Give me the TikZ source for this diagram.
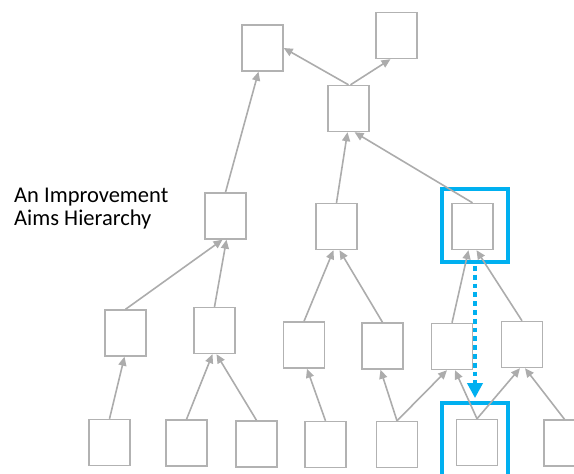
\documentclass[tikz,border=0pt]{standalone}
\usepackage{fontspec}
\setmainfont{Carlito}
\usepackage{tikz}
\usetikzlibrary{arrows.meta}
\definecolor{boxgray}{RGB}{178,178,178}
\definecolor{linegray}{RGB}{172,172,172}
\definecolor{hilite}{RGB}{0,176,240}

\begin{document}
\begin{tikzpicture}[x=1pt, y=-1pt,
 every text node part/.style={align=left},
aim/.style={rectangle, draw=boxgray, line width=1.4pt, inner sep=0pt, minimum width=41pt, minimum height=46pt},
focus/.style={rectangle, draw=hilite, line width=3.8pt, inner sep=0pt, minimum width=66pt, minimum height=73pt},
arrow/.style={-{Triangle[length=9pt, width=8pt]}, draw=linegray, line width=1.6pt},
drill/.style={-{Triangle[length=15pt, width=15pt]}, draw=hilite, line width=4.8pt, dash pattern=on 4.8pt off 4pt}]

    \clip (0,0) rectangle (574,474);
    \useasboundingbox (0,0) rectangle (574,474);

	\node[anchor=base west, inner sep=0pt, font=\fontsize{22.5}{23.5}\selectfont] (title) at (14,225.5) {An Improvement\\Aims Hierarchy};

	% top levels
	\node[aim] (a) at (262.5,48) {};
	\node[aim] (b) at (396.5,35.5) {};
	\node[aim] (c) at (348.5,108.5) {};

	\node[aim] (d) at (225.5,216) {};
	\node[aim] (e) at (336.5,226.5) {};
	\node[aim] (f) at (472.5,226.5) {};
	\node[focus] (fh) at (475,225.5) {};

	% third level
	\node[aim] (g) at (125.5,333) {};
	\node[aim] (h) at (214.5,330.5) {};
	\node[aim] (i) at (304,345) {};
	\node[aim] (j) at (382.5,346) {};
	\node[aim] (k) at (452,346.5) {};
	\node[aim] (l) at (522,344.5) {};

	% bottom level
	\node[aim] (m) at (109.5,442.5) {};
	\node[aim] (n) at (186.5,443) {};
	\node[aim] (o) at (256.5,444) {};
	\node[aim] (p) at (325.5,444.5) {};
	\node[aim] (q) at (397,444.5) {};
	\node[aim] (r) at (477,442.5) {};
	\node[aim] (s) at (564.5,443) {};
	\node[focus] (rh) at (475,439.5) {};

	\draw (c.north) edge [arrow] (a.east);
	\draw ([xshift=2pt]c.north) edge [arrow] ([xshift=-6pt]b.south);
	\draw (d.north) edge [arrow] ([xshift=-4pt]a.south);
	\draw (e.north) edge [arrow] ([xshift=-1pt]c.south);
	\draw (f.north) edge [arrow] ([xshift=6pt]c.south);

	\draw (g.north) edge [arrow] ([xshift=-3pt]d.south);
	\draw (h.north) edge [arrow] ([xshift=1pt]d.south);
	\draw (i.north) edge [arrow] ([xshift=-3pt]e.south);
	\draw (j.north) edge [arrow] ([xshift=3pt]e.south);
	\draw (k.north) edge [arrow] ([xshift=-4pt]f.south);
	\draw (l.north) edge [arrow] ([xshift=4pt]f.south);

	\draw (m.north) edge [arrow] ([xshift=-1pt]g.south);
	\draw (n.north) edge [arrow] ([xshift=-2pt]h.south);
	\draw (o.north) edge [arrow] ([xshift=2pt]h.south);
	\draw (p.north) edge [arrow] ([xshift=3pt]i.south);
	\draw (q.north) edge [arrow] ([xshift=-2pt]j.south);
	\draw (q.north) edge [arrow] ([xshift=-5pt]k.south);
	\draw (r.north) edge [arrow] ([xshift=3pt]k.south);
	\draw (r.north) edge [arrow] ([xshift=-2pt]l.south);
	\draw (s.north) edge [arrow] ([xshift=3pt]l.south);

	\draw (fh.south) edge [drill, shorten >=3pt, shorten <=2pt] (rh.north);
\end{tikzpicture}
\end{document}
